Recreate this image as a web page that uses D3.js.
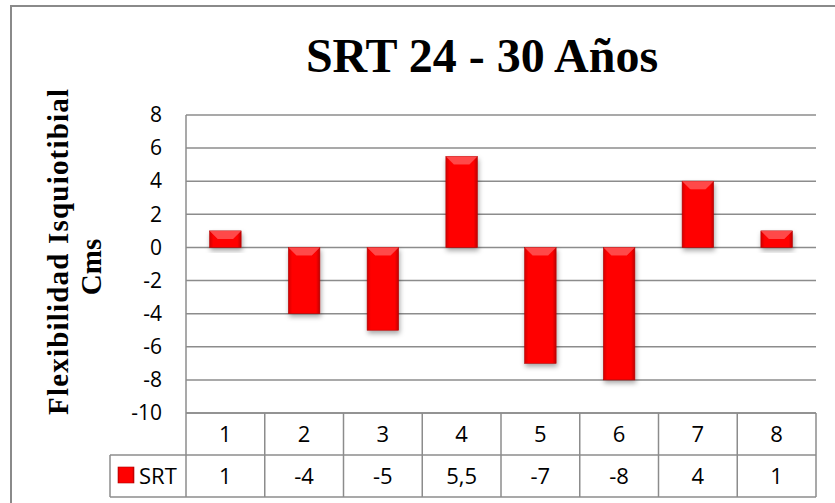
<!DOCTYPE html>
<html>
<head>
<meta charset="utf-8">
<script src="https://cdn.jsdelivr.net/npm/d3@7"></script>
<style>
  body { margin: 0; background: #fff; }
  svg { display: block; }
</style>
</head>
<body>
<svg width="835" height="503"></svg>
<script>
// data
var categories = ["1", "2", "3", "4", "5", "6", "7", "8"];
var srtValues = [1, -4, -5, 5.5, -7, -8, 4, 1];
var srtLabels = ["1", "-4", "-5", "5,5", "-7", "-8", "4", "1"];
var yTicks = [8, 6, 4, 2, 0, -2, -4, -6, -8, -10];
var seriesName = "SRT";
var chartTitle = "SRT 24 - 30 Años";
var yTitle = ["Flexibilidad Isquiotibial", "Cms"];

var svg = d3.select("svg");
var plotLeft = 186, plotRight = 816, plotTop = 115, plotBottom = 413;
var rowH = 42;
var gridColor = "#8c8c8c";
var sansFont = "'Open Sans', 'Noto Sans', sans-serif";
var serifFont = "'Liberation Serif', 'DejaVu Serif', serif";

var x = d3.scaleBand().domain(categories).range([plotLeft, plotRight]).paddingInner(0.6).paddingOuter(0.3);
var xCell = d3.scaleBand().domain(categories).range([plotLeft, plotRight]);
var y = d3.scaleLinear().domain([-10, 8]).range([plotBottom, plotTop]);

var defs = svg.append("defs");
var grad = defs.append("linearGradient").attr("id", "barGrad").attr("x1", "0").attr("x2", "1");
grad.append("stop").attr("offset", "0").attr("stop-color", "#d40000");
grad.append("stop").attr("offset", "0.12").attr("stop-color", "#ff0000");
grad.append("stop").attr("offset", "0.88").attr("stop-color", "#ff0000");
grad.append("stop").attr("offset", "1").attr("stop-color", "#c00000");
var shadow = defs.append("filter").attr("id", "shadow").attr("x", "-30%").attr("y", "-30%").attr("width", "160%").attr("height", "160%");
shadow.append("feDropShadow").attr("dx", 1).attr("dy", 3).attr("stdDeviation", 2.5)
  .attr("flood-color", "#000").attr("flood-opacity", 0.35);

// outer frame
svg.append("rect").attr("x", 11).attr("y", 6).attr("width", 840).attr("height", 520)
  .attr("fill", "none").attr("stroke", "#8a8a8a").attr("stroke-width", 2);

// title
svg.append("text").attr("x", 482).attr("y", 72).attr("text-anchor", "middle")
  .attr("font-family", serifFont).attr("font-weight", "bold").attr("font-size", 48)
  .text(chartTitle);

// y axis title
var yt = svg.append("text").attr("transform", "rotate(-90)")
  .attr("font-family", serifFont).attr("font-weight", "bold").attr("font-size", 29)
  .attr("text-anchor", "middle");
yt.append("tspan").attr("x", -252).attr("y", 68).attr("textLength", 326).attr("lengthAdjust", "spacing").text(yTitle[0]);
yt.append("tspan").attr("x", -267).attr("y", 101).text(yTitle[1]);

// gridlines
svg.append("g").selectAll("line").data(yTicks).join("line")
  .attr("x1", plotLeft).attr("x2", plotRight)
  .attr("y1", function(d) { return y(d); }).attr("y2", function(d) { return y(d); })
  .attr("stroke", gridColor).attr("stroke-width", 1.5);

// y axis labels (plain hyphen minus, like the source)
var yAxis = d3.axisLeft(y).tickValues(yTicks).tickSize(0).tickPadding(24)
  .tickFormat(function(d) { return String(d); });
var yg = svg.append("g").attr("transform", "translate(" + plotLeft + ",0)").call(yAxis)
  .attr("font-family", sansFont).attr("font-size", 21);
yg.select(".domain").remove();
yg.selectAll("text").attr("fill", "#000");

// bars
var bars = svg.append("g").selectAll("g").data(srtValues).join("g").attr("filter", "url(#shadow)");
bars.append("rect")
  .attr("x", function(d, i) { return x(categories[i]); })
  .attr("width", x.bandwidth())
  .attr("y", function(d) { return y(Math.max(0, d)); })
  .attr("height", function(d) { return Math.abs(y(d) - y(0)); })
  .attr("fill", "url(#barGrad)").attr("stroke", "#b00000").attr("stroke-width", 0.6);
// bevel highlight on the top edge
bars.append("path")
  .attr("d", function(d, i) {
    var x0 = x(categories[i]), w = x.bandwidth(), t = y(Math.max(0, d));
    var h = Math.min(8, Math.abs(y(d) - y(0)) / 2);
    return "M" + x0 + "," + t + "L" + (x0 + w) + "," + t + "L" + (x0 + w - h) + "," + (t + h) +
      "L" + (x0 + h) + "," + (t + h) + "Z";
  })
  .attr("fill", "#ff5a5a").attr("opacity", 0.8);

// data table
var table = svg.append("g").attr("font-family", sansFont).attr("font-size", 22);
var tableLines = [
  [plotLeft, plotBottom, plotRight, plotBottom],
  [110, plotBottom + rowH, plotRight, plotBottom + rowH],
  [110, plotBottom + 2 * rowH, plotRight, plotBottom + 2 * rowH],
  [110, plotBottom + rowH, 110, plotBottom + 2 * rowH],
  [plotLeft, plotTop, plotLeft, plotBottom + 2 * rowH]
];
categories.forEach(function(c) {
  var xe = xCell(c) + xCell.bandwidth();
  tableLines.push([xe, plotBottom, xe, plotBottom + 2 * rowH]);
});
table.selectAll("line").data(tableLines).join("line")
  .attr("x1", function(d) { return d[0]; }).attr("y1", function(d) { return d[1]; })
  .attr("x2", function(d) { return d[2]; }).attr("y2", function(d) { return d[3]; })
  .attr("stroke", gridColor).attr("stroke-width", 1.5);

table.selectAll("text.cat").data(categories).join("text").attr("class", "cat")
  .attr("x", function(d) { return xCell(d) + xCell.bandwidth() / 2; })
  .attr("y", plotBottom + rowH / 2 + 8).attr("text-anchor", "middle")
  .text(function(d) { return d; });
table.selectAll("text.val").data(srtLabels).join("text").attr("class", "val")
  .attr("x", function(d, i) { return xCell(categories[i]) + xCell.bandwidth() / 2; })
  .attr("y", plotBottom + rowH * 1.5 + 8).attr("text-anchor", "middle")
  .text(function(d) { return d; });

// legend key
table.append("rect").attr("x", 118).attr("y", plotBottom + rowH + 12).attr("width", 16).attr("height", 16)
  .attr("fill", "url(#barGrad)").attr("stroke", "#b00000").attr("stroke-width", 0.6);
table.append("text").attr("x", 139).attr("y", plotBottom + rowH * 1.5 + 8)
  .text(seriesName);
</script>
</body>
</html>
